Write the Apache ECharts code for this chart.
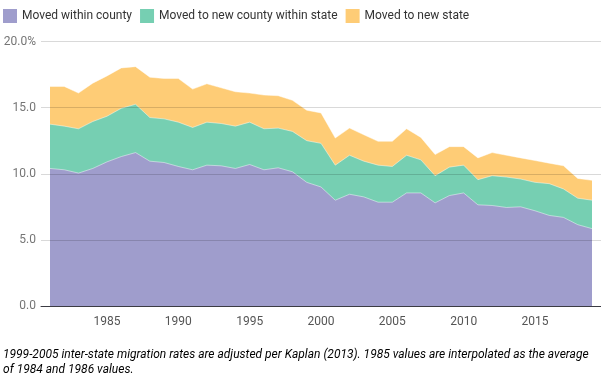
<!DOCTYPE html>
<html>
<head>
<meta charset="utf-8">
<script src="https://cdn.jsdelivr.net/npm/echarts@6/dist/echarts.min.js"></script>
<style>html,body{margin:0;padding:0;background:#fff}#c{width:601px;height:381px}</style>
</head>
<body>
<div id="c"></div>
<script>
var years = [1981,1982,1983,1984,1985,1986,1987,1988,1989,1990,1991,1992,1993,1994,1995,1996,1997,1998,1999,2000,2001,2002,2003,2004,2005,2006,2007,2008,2009,2010,2011,2012,2013,2014,2015,2016,2017,2018,2019];
var withinCounty = [10.4,10.3,10.05,10.4,10.9,11.3,11.6,10.95,10.85,10.55,10.3,10.65,10.6,10.4,10.7,10.3,10.45,10.15,9.35,9.0,8.0,8.45,8.25,7.85,7.85,8.55,8.55,7.8,8.35,8.55,7.65,7.6,7.45,7.5,7.2,6.85,6.7,6.15,5.85];
var newCounty = [3.35,3.3,3.35,3.55,3.45,3.65,3.65,3.3,3.3,3.35,3.2,3.25,3.2,3.2,3.2,3.1,3.0,3.05,3.15,3.3,2.65,2.95,2.7,2.8,2.7,2.85,2.5,2.05,2.15,2.1,1.9,2.25,2.3,2.1,2.15,2.4,2.15,2.0,2.15];
var newState = [2.85,3.0,2.7,2.9,3.05,3.05,2.85,3.05,3.05,3.3,2.9,2.9,2.7,2.6,2.2,2.55,2.45,2.35,2.3,2.3,2.05,2.05,2.0,1.8,1.9,2.0,1.7,1.6,1.55,1.4,1.65,1.75,1.65,1.6,1.65,1.55,1.75,1.5,1.5];
var xTickLabels = [1985,1990,1995,2000,2005,2010,2015];
var seriesNames = ['Moved within county','Moved to new county within state','Moved to new state'];

// cumulative tops of the stacked layers
var cum1 = withinCounty.slice();
var cum2 = withinCounty.map(function(v,i){ return +(v + newCounty[i]).toFixed(3); });
var cum3 = cum2.map(function(v,i){ return +(v + newState[i]).toFixed(3); });

function pairs(vals){ return years.map(function(y,i){ return [y, vals[i]]; }); }

var font = 'Roboto, "Noto Sans", sans-serif';
var colors = ['#9f9dcc','#76cfb2','#fecc76'];
function mkSeries(name, vals, color, z){
  return {
    name: name, type: 'line', data: pairs(vals),
    symbol: 'none', smooth: false, z: z,
    lineStyle: { width: 1, color: 'rgba(255,255,255,0.45)' },
    areaStyle: { color: color, opacity: 1, origin: 'start' },
    itemStyle: { color: color }
  };
}

var chart = echarts.init(document.getElementById('c'), null, {renderer: 'canvas'});
chart.setOption({
  animation: false,
  textStyle: { fontFamily: font },
  legend: {
    left: 3, top: 9, padding: 0, icon: 'rect', itemWidth: 14, itemHeight: 14, itemGap: 8,
    textStyle: { fontSize: 12, color: '#333', fontFamily: font },
    data: seriesNames
  },
  grid: { left: 41, right: 0, top: 41.5, bottom: 75, containLabel: false },
  xAxis: {
    type: 'value', min: 1980.37, max: 2019.63, z: 6,
    axisLine: { show: true, onZero: true, lineStyle: { color: 'rgba(30,30,40,0.85)', width: 1 } },
    axisTick: { show: false },
    splitLine: { show: false },
    axisLabel: { customValues: xTickLabels, color: '#555', fontSize: 12, margin: 10, fontFamily: font,
      formatter: function(v){ return String(v); } }
  },
  yAxis: {
    type: 'value', min: 0, max: 20, interval: 5, z: 5,
    axisLine: { show: false }, axisTick: { show: false },
    splitLine: { show: true, lineStyle: { color: 'rgba(0,0,0,0.15)', width: 1 } },
    axisLabel: { color: '#757575', fontSize: 12, margin: 5, fontFamily: font,
      formatter: function(v){ return v === 20 ? '20.0%' : v.toFixed(1); } }
  },
  series: [
    mkSeries(seriesNames[2], cum3, colors[2], 2),
    mkSeries(seriesNames[1], cum2, colors[1], 3),
    mkSeries(seriesNames[0], cum1, colors[0], 4)
  ],
  graphic: [{
    type: 'text', left: 3, top: 349,
    style: {
      text: '{a|1999-2005 inter-state migration rates are adjusted per }{b|Kaplan (2013)}{a|. 1985 values are interpolated as the average}\n{a|of 1984 and 1986 values.}',
      rich: {
        a: { fontSize: 12, fontStyle: 'italic', color: '#555', fontFamily: font, lineHeight: 15 },
        b: { fontSize: 12, fontStyle: 'italic', color: '#1a9bd7', fontFamily: font, lineHeight: 15 }
      }
    }
  }]
});
</script>
</body>
</html>
